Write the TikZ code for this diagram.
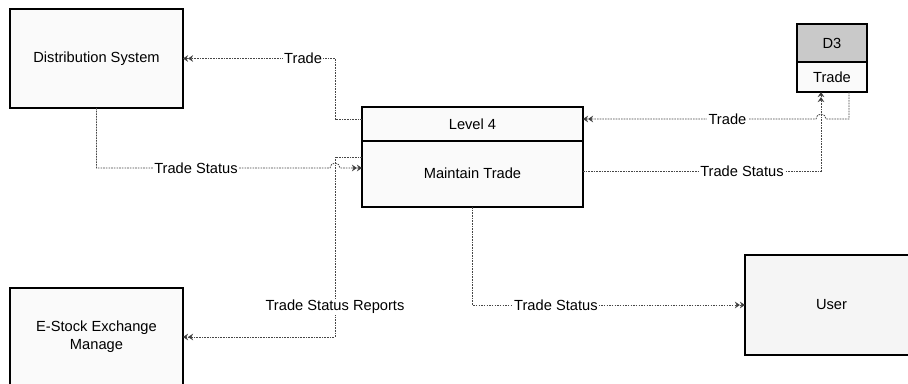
\documentclass[tikz,border=0pt]{standalone}
\usepackage{fontspec}
\setmainfont{Liberation Sans}
\usetikzlibrary{arrows.meta}
\begin{document}
\begin{tikzpicture}[x=0.75pt,y=-0.75pt,
  txt/.style={font=\fontsize{11}{13.5}\selectfont},
  box/.style={draw=black, line width=0.9pt, fill=gray!4, outer sep=0pt, inner sep=0pt, txt},
  flow/.style={draw=gray!55!black, line width=0.6pt, dash pattern=on 1.2pt off 0.8pt,
    -{Stealth[length=3.8pt,width=5pt,fill=gray!20!black]Stealth[length=3.8pt,width=5pt,fill=gray!20!black]}},
  lbl/.style={fill=white, inner sep=1pt, txt},
  hdr/.style={fill=gray!42}]
\useasboundingbox (0,0) rectangle (908,384);
\clip (0,0) rectangle (908,384);
\fill[white] (0,0) rectangle (908,384);

% external entities and processes
\node[box, minimum width=129.75pt, minimum height=74.25pt] (ds) at (96.5,58.5) {Distribution System};
\node[box, minimum width=129.75pt, minimum height=73.5pt, align=center] (es) at (96.5,337) {E-Stock Exchange\\Manage};
\node[box, fill=gray!8, minimum width=129.75pt, minimum height=75pt] (user) at (831.5,305) {User};

% process box with a header row
\node[box, minimum width=165.75pt, minimum height=75pt] (lvl) at (472.5,157) {};
\draw[line width=0.9pt] (lvl.west |- 0,141) -- (lvl.east |- 0,141);
\node[txt] (lvlhead) at (472.5,124) {Level 4};
\node[txt] (lvlbody) at (472.5,173) {Maintain Trade};

% data store D3
\node[box, minimum width=52.5pt, minimum height=51pt] (d3) at (832,58) {};
\fill[hdr] (d3.north west) rectangle (d3.east |- 0,62);
\draw[line width=0.9pt] (d3.north west) rectangle (d3.south east);
\draw[line width=0.9pt] (d3.west |- 0,62) -- (d3.east |- 0,62);
\node[txt] (d3id) at (832,43) {D3};
\node[txt] (d3name) at (832,77) {Trade};

% data flows
\draw[flow] (lvl.west |- 0,119) -- (335,119) |- node[lbl,pos=0.605]{Trade} (ds.east);
\draw[flow] (ds.south) |- node[lbl,pos=0.713]{Trade Status} (330,168)
  arc[start angle=180,end angle=0,radius=3.75pt] -- (lvl.west |- 0,168);
\draw[flow] (lvl.west |- 0,157) -| node[lbl,pos=0.917]{Trade Status Reports} (335,337) -- (es.east);
\draw[flow] ([xshift=12.75pt]d3.south) |- (826,119)
  arc[start angle=0,end angle=180,radius=3.75pt] -- node[lbl,pos=0.38]{Trade} (lvl.east |- 0,119);
\draw[flow] (lvl.east |- 0,171) -| node[lbl,pos=0.334]{Trade Status} ([xshift=-8.25pt]d3.south);
\draw[flow] (lvl.south) |- node[lbl,pos=0.653]{Trade Status} (user.west);
\end{tikzpicture}
\end{document}
